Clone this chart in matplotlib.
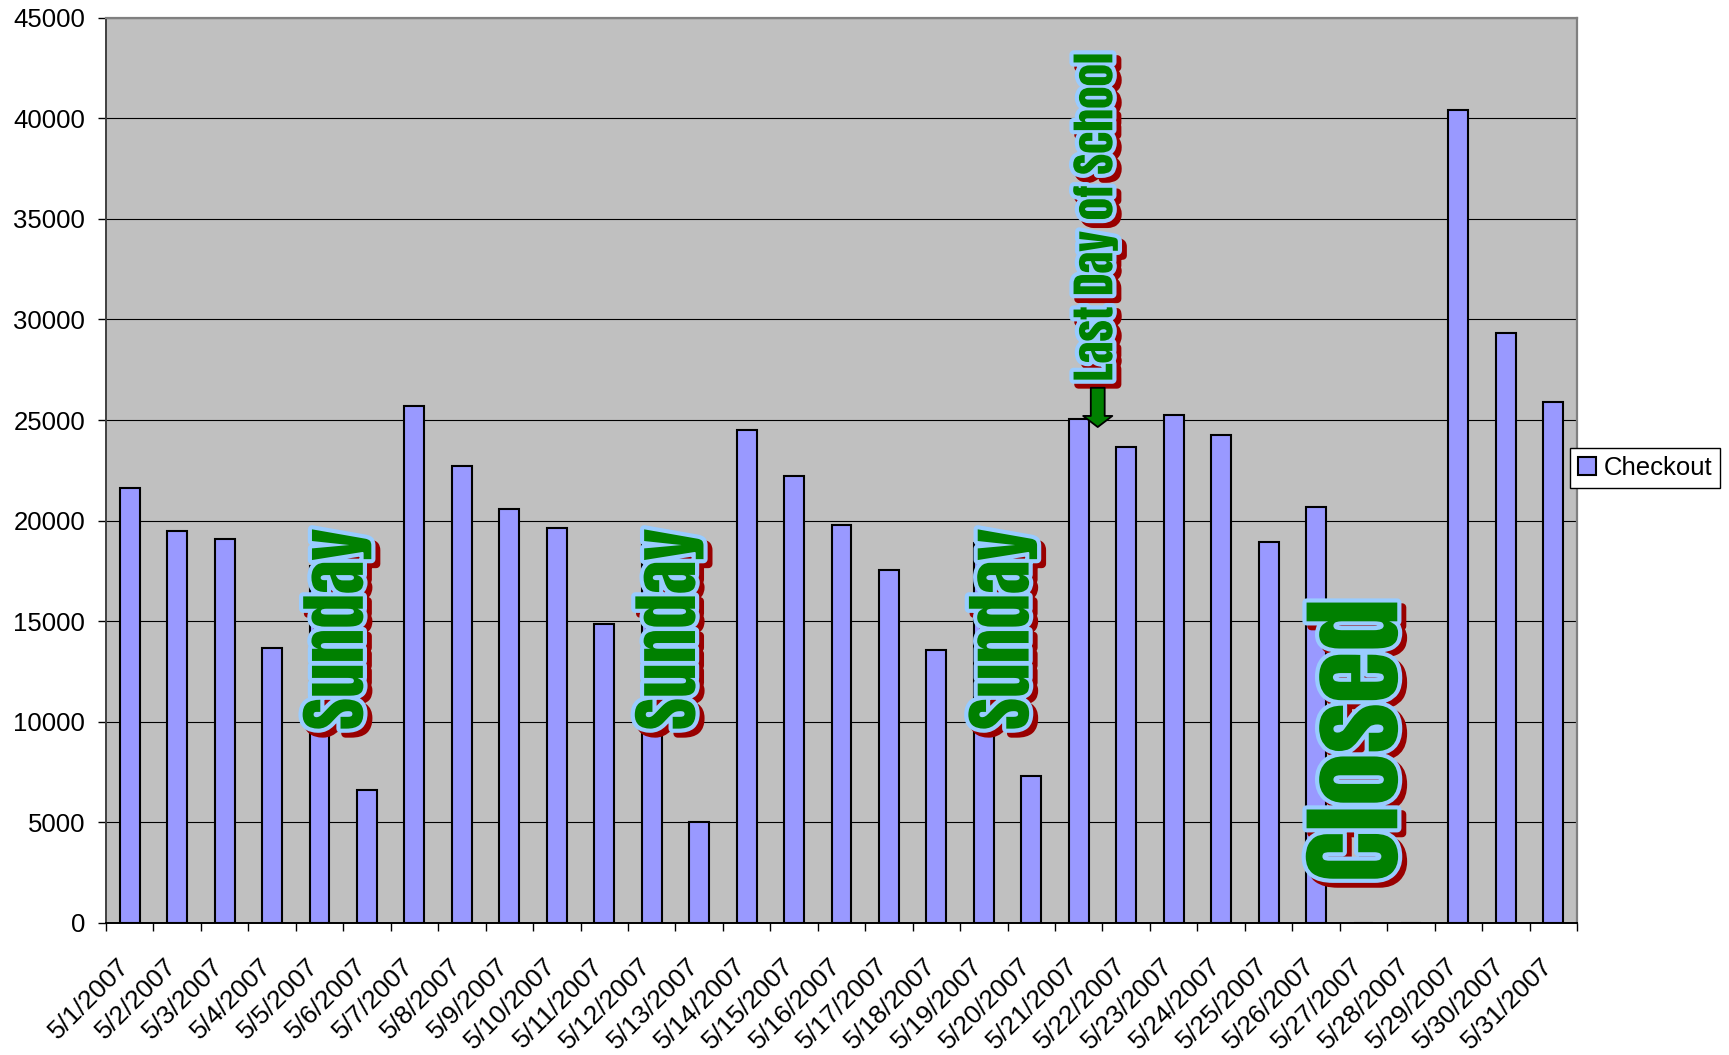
import matplotlib
matplotlib.use("Agg")
import matplotlib.pyplot as plt
import matplotlib.patheffects as pe
from matplotlib.patches import Patch
from matplotlib.transforms import ScaledTranslation

dates = [
    "5/1/2007", "5/2/2007", "5/3/2007", "5/4/2007", "5/5/2007", "5/6/2007",
    "5/7/2007", "5/8/2007", "5/9/2007", "5/10/2007", "5/11/2007", "5/12/2007",
    "5/13/2007", "5/14/2007", "5/15/2007", "5/16/2007", "5/17/2007", "5/18/2007",
    "5/19/2007", "5/20/2007", "5/21/2007", "5/22/2007", "5/23/2007", "5/24/2007",
    "5/25/2007", "5/26/2007", "5/27/2007", "5/28/2007", "5/29/2007", "5/30/2007",
    "5/31/2007",
]
checkout = [
    21600, 19500, 19100, 13650, 17750, 6620, 25680, 22690, 20600, 19620, 14860,
    19120, 5000, 24480, 22230, 19780, 17550, 13560, 18890, 7330, 25030, 23640,
    25230, 24260, 18920, 20700, 0, 0, 40400, 29320, 25880,
]
y_ticks = [0, 5000, 10000, 15000, 20000, 25000, 30000, 35000, 40000, 45000]

# word-art style notes: text, x (category units), y (data units), font size
notes = [
    ("Sunday", 4.37, 14600, 50),
    ("Sunday", 11.37, 14600, 50),
    ("Sunday", 18.4, 14600, 50),
    ("Last Day of School", 20.36, 35100, 32.5),
    ("Closed", 25.88, 9070, 76),
]

BAR_COLOR = "#9999FF"
PLOT_BG = "#C0C0C0"
TEXT_FONT = ["Liberation Sans", "DejaVu Sans"]
ART_FONT = ["Anton", "Oswald", "Liberation Sans", "DejaVu Sans"]

fig = plt.figure(figsize=(17.29, 10.55), dpi=100)
ax = fig.add_axes([106 / 1729, 1 - 923 / 1055, (1577 - 106) / 1729, (923 - 17.6) / 1055])
ax.set_facecolor(PLOT_BG)

x = list(range(len(dates)))
ax.bar(x, checkout, width=0.42, color=BAR_COLOR, edgecolor="black", linewidth=1.5, zorder=3)

ax.set_xlim(-0.5, len(dates) - 0.5)
ax.set_ylim(0, 45000)
ax.set_yticks(y_ticks)
ax.set_yticklabels([str(v) for v in y_ticks], fontsize=18.5, family=TEXT_FONT)
ax.yaxis.grid(True, color="black", linewidth=0.8, zorder=0)
ax.set_axisbelow(True)

# category labels sit at the centres, tick marks at the boundaries
ax.set_xticks(x)
ax.set_xticklabels(dates, fontsize=19, family=TEXT_FONT)
ax.set_xticks([i - 0.5 for i in range(len(dates) + 1)], minor=True)
ax.tick_params(axis="x", which="major", length=0, pad=22)
ax.tick_params(axis="x", which="minor", length=6, width=1, direction="out", color="black")
ax.tick_params(axis="y", length=6, width=1, direction="out", pad=9)
shift = ScaledTranslation(-13 / 100, 0, fig.dpi_scale_trans)
for lab in ax.get_xticklabels():
    lab.set_rotation(45)
    lab.set_ha("right")
    lab.set_va("top")
    lab.set_rotation_mode("anchor")
    lab.set_transform(lab.get_transform() + shift)

ax.spines["left"].set_color("#404040")
ax.spines["left"].set_linewidth(1.4)
ax.spines["bottom"].set_color("black")
ax.spines["bottom"].set_linewidth(1.4)
for side in ("top", "right"):
    ax.spines[side].set_color("#808080")
    ax.spines[side].set_linewidth(1.6)

art_effects = [
    pe.Stroke(linewidth=6, foreground="#990000", offset=(3.5, -3.5)),
    pe.SimplePatchShadow(offset=(3.5, -3.5), shadow_rgbFace="#990000", alpha=1.0),
    pe.Stroke(linewidth=6, foreground="#99CCFF"),
    pe.Normal(),
]
for text, tx, ty, size in notes:
    ax.text(tx, ty, text, rotation=90, ha="center", va="center",
            fontsize=size, family=ART_FONT,
            color="#008000", path_effects=art_effects, zorder=5)

# arrow pointing at the last day of school
ax.annotate("", xy=(20.4, 24650), xytext=(20.4, 26600),
            arrowprops=dict(arrowstyle="simple,head_length=0.8,head_width=2.1,tail_width=1.0",
                            mutation_scale=10, fc="#008000", ec="black", lw=1.3,
                            shrinkA=0, shrinkB=0),
            zorder=5)

handle = Patch(facecolor=BAR_COLOR, edgecolor="black", linewidth=1.5)
fig.legend([handle], ["Checkout"], loc="center left",
           bbox_to_anchor=(1570 / 1729, 1 - 468 / 1055), borderaxespad=0,
           prop={"family": TEXT_FONT, "size": 18.5}, handlelength=0.7, handleheight=0.7,
           handletextpad=0.3, borderpad=0.3, fancybox=False, framealpha=1,
           edgecolor="black")

fig.savefig("out.png", dpi=100, facecolor="white")
